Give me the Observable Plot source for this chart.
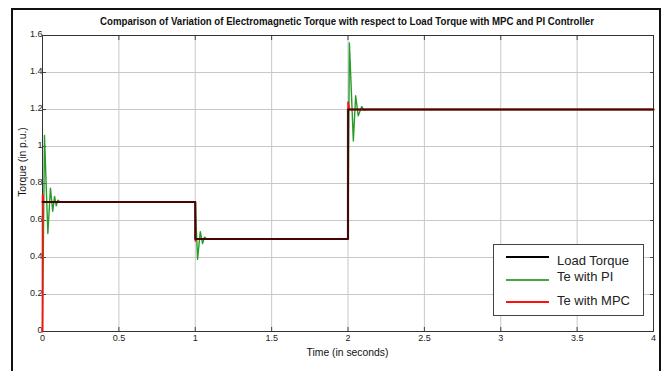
<!DOCTYPE html>
<html>
<head>
<meta charset="utf-8">
<script src="https://cdn.jsdelivr.net/npm/d3@7"></script>
<script src="https://cdn.jsdelivr.net/npm/@observablehq/plot@0.6"></script>
<style>
  body { margin: 0; background: #fff; }
  #wrap { position: relative; width: 665px; height: 371px; overflow: hidden; background: #fff; }
  .narrow { font-family: "Liberation Sans Narrow", "Arial Narrow", "Liberation Sans", Arial, sans-serif; }
  .abs { position: absolute; }
</style>
</head>
<body>
<div id="wrap">
  <div class="abs" style="left:11px;top:8px;width:646px;height:420px;border:2px solid #111;"></div>
  <div class="abs narrow" style="left:0;top:13px;width:695px;text-align:center;line-height:13px;">
    <span style="display:inline-block;transform:scaleX(0.84);font-size:11.5px;font-weight:bold;color:#111;white-space:nowrap;">Comparison of Variation of Electromagnetic Torque with respect to Load Torque with MPC and PI Controller</span>
  </div>
  <div id="chart" class="abs" style="left:0;top:30px;"></div>
  <div class="abs narrow" style="left:0;top:344px;width:695px;text-align:center;line-height:14px;">
    <span style="display:inline-block;transform:scaleX(0.9);font-size:11.5px;color:#111;white-space:nowrap;">Time (in seconds)</span>
  </div>
  <div class="abs narrow" style="left:22px;top:162px;width:0;height:0;">
    <div style="position:absolute;transform:translate(-50%,-50%) rotate(-90deg) scaleX(0.9);white-space:nowrap;font-size:11.5px;line-height:14px;color:#111;">Torque (in p.u.)</div>
  </div>
  <div id="legend" class="abs" style="left:493px;top:244px;width:149px;height:70px;border:1px solid #444;background:#fff;"></div>
</div>
<script>
// ---- data ----
const timeLoad = [0, 1, 2, 4];
const loadTorque = [0.7, 0.5, 1.2, 1.2];

const timePI = [0, 0.013, 0.035, 0.052, 0.067, 0.079, 0.09, 0.1, 0.115, 1.0, 1.015, 1.033, 1.048, 1.06, 1.075, 2.0, 2.009, 2.035, 2.05, 2.067, 2.09, 2.105, 2.12, 4.0];
const tePI   = [0, 1.06, 0.53, 0.775, 0.65, 0.73, 0.68, 0.71, 0.70, 0.70, 0.39, 0.54, 0.475, 0.51, 0.50, 0.50, 1.56, 1.03, 1.274, 1.166, 1.216, 1.195, 1.20, 1.20];

const timeMPC = [0, 0.001, 0.006, 1.0, 1.001, 1.006, 2.0, 2.001, 2.008, 4.0];
const teMPC   = [0, 0.74, 0.70, 0.70, 0.49, 0.50, 0.50, 1.24, 1.20, 1.20];

const xTicks = [0, 0.5, 1, 1.5, 2, 2.5, 3, 3.5, 4];
const xTickLabels = ["0", "0.5", "1", "1.5", "2", "2.5", "3", "3.5", "4"];
const yTicks = [0, 0.2, 0.4, 0.6, 0.8, 1, 1.2, 1.4, 1.6];
const yTickLabels = ["0", "0.2", "0.4", "0.6", "0.8", "1", "1.2", "1.4", "1.6"];

const seriesNames = ["Load Torque", "Te with PI", "Te with MPC"];
const seriesColors = ["#000000", "#2a9a2a", "#ff1010"];
const legendColors = ["#000000", "#45a845", "#ff1010"];

// ---- tables ----
const loadData = timeLoad.map((t, i) => ({t, v: loadTorque[i]}));
const piData = timePI.map((t, i) => ({t, v: tePI[i]}));
const mpcData = timeMPC.map((t, i) => ({t, v: teMPC[i]}));

const narrow = '"Liberation Sans Narrow", "Arial Narrow", "Liberation Sans", Arial, sans-serif';
const fmtX = d => xTickLabels[xTicks.indexOf(d)];
const fmtY = d => yTickLabels[yTicks.indexOf(d)];
const blank = () => "";

const chart = Plot.plot({
  width: 665,
  height: 341,
  marginTop: 5,
  marginBottom: 40,
  marginLeft: 42,
  marginRight: 12,
  style: {fontFamily: narrow, fontSize: "9px", color: "#222", background: "transparent"},
  x: {domain: [0, 4], label: null},
  y: {domain: [0, 1.6], label: null},
  marks: [
    Plot.gridX(xTicks, {stroke: "#c8c8c8", strokeOpacity: 1}),
    Plot.gridY(yTicks, {stroke: "#c8c8c8", strokeOpacity: 1}),
    Plot.axisX({ticks: xTicks, tickFormat: fmtX, tickSize: 0, tickPadding: 3, label: null}),
    Plot.axisY({ticks: yTicks, tickFormat: fmtY, tickSize: 0, tickPadding: 0, dy: -1, label: null}),
    Plot.axisX({ticks: xTicks, tickFormat: blank, tickSize: 4, dy: -4, label: null, stroke: "#444"}),
    Plot.axisX({ticks: xTicks, tickFormat: blank, anchor: "top", tickSize: 4, dy: 4, label: null, stroke: "#444"}),
    Plot.axisY({ticks: yTicks, tickFormat: blank, tickSize: 4, dx: 4, label: null, stroke: "#444"}),
    Plot.axisY({ticks: yTicks, tickFormat: blank, anchor: "right", tickSize: 4, dx: -4, label: null, stroke: "#444"}),
    Plot.frame({stroke: "#333", strokeWidth: 1}),
    Plot.line(piData, {x: "t", y: "v", stroke: seriesColors[1], strokeWidth: 1.4}),
    Plot.line(mpcData, {x: "t", y: "v", stroke: seriesColors[2], strokeWidth: 1.8}),
    Plot.line(loadData, {x: "t", y: "v", curve: "step-after", stroke: seriesColors[0], strokeWidth: 2.2, strokeOpacity: 0.72})
  ]
});
document.getElementById("chart").appendChild(chart);

// ---- legend ----
const legend = document.getElementById("legend");
const rows = [
  {lineY: 12, textY: 16},
  {lineY: 35, textY: 32},
  {lineY: 57, textY: 56}
];
seriesNames.forEach((name, i) => {
  const sw = document.createElement("div");
  sw.style.cssText = `position:absolute;left:12px;top:${rows[i].lineY - 1}px;width:43px;height:2px;background:${legendColors[i]};`;
  legend.appendChild(sw);
  const tx = document.createElement("div");
  tx.textContent = name;
  tx.style.cssText = `position:absolute;left:63px;top:${rows[i].textY - 8}px;font-family:"Liberation Sans",Arial,sans-serif;font-size:13px;line-height:16px;color:#222;white-space:nowrap;`;
  legend.appendChild(tx);
});
</script>
</body>
</html>
